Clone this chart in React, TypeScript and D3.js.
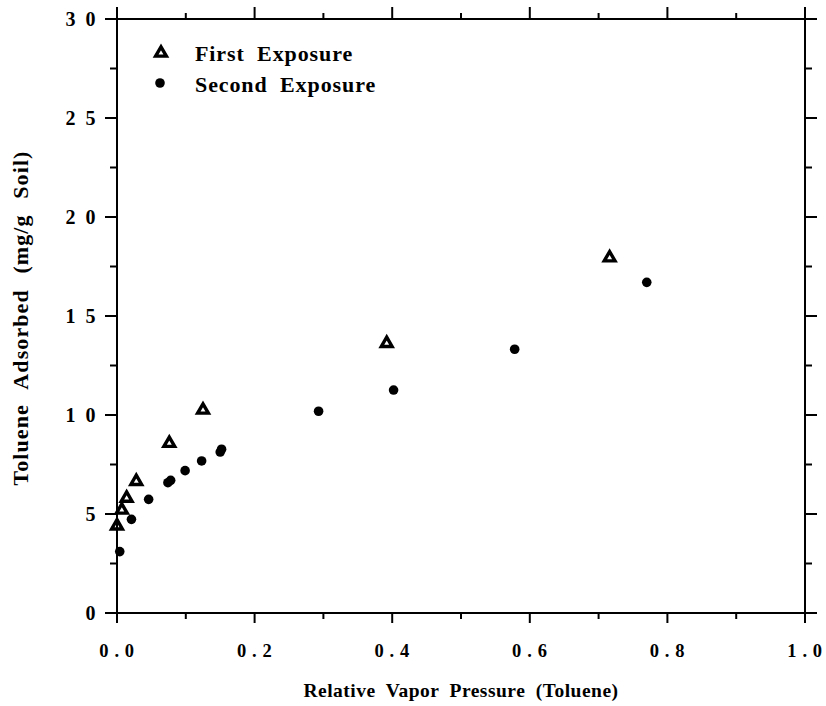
import React from "react";
import * as d3 from "d3";

const firstX = [0.0, 0.007, 0.014, 0.028, 0.076, 0.125, 0.392, 0.716];
const firstY = [4.4, 5.2, 5.8, 6.65, 8.57, 10.25, 13.62, 17.94];
const secondX = [0.004, 0.021, 0.046, 0.074, 0.078, 0.099, 0.123, 0.15, 0.152, 0.293, 0.402, 0.578, 0.77];
const secondY = [3.1, 4.73, 5.74, 6.58, 6.7, 7.19, 7.68, 8.13, 8.27, 10.19, 11.26, 13.32, 16.7];
const xTicks = [0, 0.2, 0.4, 0.6, 0.8, 1.0];
const xMinor = [0.1, 0.3, 0.5, 0.7, 0.9];
const yTicks = [0, 5, 10, 15, 20, 25, 30];
const yMinor = [2.5, 7.5, 12.5, 17.5, 22.5, 27.5];
const legendLabels = ["First Exposure", "Second Exposure"];
const xTitle = "Relative Vapor Pressure (Toluene)";
const yTitle = "Toluene Adsorbed (mg/g Soil)";

const FONT = "'Liberation Serif', 'DejaVu Serif', serif";

export default function App() {
  const x = d3.scaleLinear().domain([0, 1]).range([117, 805]);
  const y = d3.scaleLinear().domain([0, 30]).range([613, 19]);
  const tri = d3.symbol().type(d3.symbolTriangle).size(50)();
  const left = x(0), right = x(1), top = y(30), bottom = y(0);
  const sw = 2;
  const fmtY = (v: number) => String(v).split("").join(" ");
  const fmtX = (v: number) => v.toFixed(1).split("").join(" ");

  return (
    <svg width={826} height={706} style={{ display: "block", position: "absolute", left: 0, top: 0, background: "#fff" }}>
      <rect x={0} y={0} width={826} height={706} fill="#fff" />
      {/* frame */}
      <line x1={left} x2={right + 12} y1={top} y2={top} stroke="#000" strokeWidth={sw} />
      <line x1={left - 12} x2={right + 12} y1={bottom} y2={bottom} stroke="#000" strokeWidth={sw} />
      <line x1={left} x2={left} y1={top - 12} y2={bottom + 10} stroke="#000" strokeWidth={sw} />
      <line x1={right} x2={right} y1={top - 12} y2={bottom + 10} stroke="#000" strokeWidth={sw} />
      {/* x ticks */}
      {xTicks.map((t) => (
        <g key={"xt" + t}>
          <line x1={x(t)} x2={x(t)} y1={bottom} y2={bottom + 10} stroke="#000" strokeWidth={sw} />
          <line x1={x(t)} x2={x(t)} y1={top} y2={top - 12} stroke="#000" strokeWidth={sw} />
          <text x={x(t)} y={bottom + 44} textAnchor="middle" fontFamily={FONT} fontWeight="bold" fontSize={18.5} letterSpacing={0.6}>
            {fmtX(t)}
          </text>
        </g>
      ))}
      {xMinor.map((t) => (
        <g key={"xm" + t}>
          <line x1={x(t)} x2={x(t)} y1={bottom} y2={bottom + 6} stroke="#000" strokeWidth={sw} />
          <line x1={x(t)} x2={x(t)} y1={top} y2={top - 6} stroke="#000" strokeWidth={sw} />
        </g>
      ))}
      {/* y ticks */}
      {yTicks.map((t) => (
        <g key={"yt" + t}>
          <line x1={left} x2={left - 12} y1={y(t)} y2={y(t)} stroke="#000" strokeWidth={sw} />
          <line x1={right} x2={right + 12} y1={y(t)} y2={y(t)} stroke="#000" strokeWidth={sw} />
          <text x={left - 19} y={y(t) + 7} textAnchor="end" fontFamily={FONT} fontWeight="bold" fontSize={20} letterSpacing={2.5}>
            {fmtY(t)}
          </text>
        </g>
      ))}
      {yMinor.map((t) => (
        <g key={"ym" + t}>
          <line x1={left} x2={left - 7} y1={y(t)} y2={y(t)} stroke="#000" strokeWidth={sw} />
          <line x1={right} x2={right + 7} y1={y(t)} y2={y(t)} stroke="#000" strokeWidth={sw} />
        </g>
      ))}
      {/* data */}
      {secondX.map((v, i) => (
        <circle key={"s" + i} cx={x(v)} cy={y(secondY[i])} r={4.8} fill="#000" />
      ))}
      {firstX.map((v, i) => (
        <path key={"f" + i} d={tri} transform={`translate(${x(v)},${y(firstY[i])})`} fill="none" stroke="#000" strokeWidth={3.4} strokeLinejoin="miter" />
      ))}
      {/* legend */}
      <path d={tri} transform="translate(161,53)" fill="none" stroke="#000" strokeWidth={3.4} />
      <circle cx={160} cy={83} r={4.8} fill="#000" />
      <text x={195} y={61} fontFamily={FONT} fontWeight="bold" fontSize={22} wordSpacing={6} letterSpacing={0.9}>
        {legendLabels[0]}
      </text>
      <text x={195} y={92} fontFamily={FONT} fontWeight="bold" fontSize={22} wordSpacing={6} letterSpacing={0.9}>
        {legendLabels[1]}
      </text>
      {/* titles */}
      <text x={(left + right) / 2} y={697} textAnchor="middle" fontFamily={FONT} fontWeight="bold" fontSize={19.5} wordSpacing={5} letterSpacing={0.5}>
        {xTitle}
      </text>
      <text transform={`translate(28,${(top + bottom) / 2 + 2}) rotate(-90)`} textAnchor="middle" fontFamily={FONT} fontWeight="bold" fontSize={22} wordSpacing={9} letterSpacing={1.1}>
        {yTitle}
      </text>
    </svg>
  );
}
